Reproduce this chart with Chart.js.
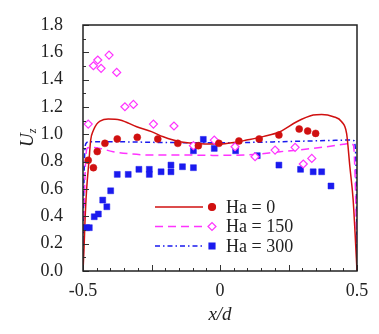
<!DOCTYPE html>
<html>
<head>
<meta charset="utf-8">
<script src="https://cdn.jsdelivr.net/npm/chart.js@4"></script>
<style>
  html, body { margin: 0; padding: 0; background: #fff; }
  canvas { display: block; }
</style>
</head>
<body>
<canvas id="uzChart" width="379" height="334"></canvas>
<script>
// simulated profiles (lines)
const xs0   = [-0.5,-0.496,-0.493,-0.487,-0.478,-0.472,-0.462,-0.45,-0.438,-0.408,-0.365,-0.304,-0.25,-0.207,-0.146,-0.07,0,0.05,0.097,0.16,0.219,0.28,0.34,0.371,0.414,0.444,0.462,0.474,0.486,0.493,0.5];
const ys0   = [0,0.18,0.35,0.59,0.81,0.958,1.03,1.075,1.097,1.112,1.105,1.056,1.02,0.982,0.946,0.932,0.929,0.94,0.958,0.985,1.019,1.092,1.141,1.146,1.129,1.092,1.007,0.763,0.52,0.276,0];
const xs150 = [-0.5,-0.497,-0.494,-0.49,-0.484,-0.47,-0.438,-0.39,-0.322,-0.255,-0.146,-0.026,0.097,0.219,0.34,0.389,0.45,0.474,0.487,0.493,0.497,0.5];
const ys150 = [0,0.3,0.6,0.82,0.9,0.905,0.897,0.873,0.856,0.849,0.849,0.846,0.849,0.873,0.897,0.909,0.927,0.934,0.92,0.7,0.35,0];
const xs300 = [-0.5,-0.499,-0.497,-0.494,-0.49,-0.48,-0.4,-0.2,0,0.2,0.4,0.47,0.487,0.493,0.497,0.499,0.5];
const ys300 = [0,0.3,0.6,0.85,0.93,0.945,0.946,0.94,0.938,0.945,0.955,0.958,0.955,0.92,0.7,0.35,0];

// measured points (symbols)
const x0p   = [-0.481,-0.462,-0.448,-0.42,-0.375,-0.302,-0.227,-0.154,-0.079,-0.004,0.069,0.143,0.215,0.289,0.32,0.349];
const y0p   = [0.81,0.756,0.874,0.934,0.966,0.978,0.966,0.934,0.917,0.934,0.951,0.966,0.995,1.039,1.024,1.007];
const x150p = [-0.481,-0.462,-0.446,-0.434,-0.405,-0.377,-0.347,-0.316,-0.243,-0.168,-0.097,-0.021,0.055,0.128,0.201,0.274,0.304,0.335];
const y150p = [1.075,1.502,1.544,1.483,1.58,1.453,1.202,1.219,1.075,1.061,0.917,0.958,0.909,0.836,0.885,0.905,0.783,0.824];
const x300p = [-0.487,-0.477,-0.459,-0.444,-0.428,-0.413,-0.399,-0.375,-0.335,-0.296,-0.258,-0.258,-0.215,-0.179,-0.179,-0.137,-0.097,-0.097,-0.061,-0.021,0.057,0.136,0.215,0.294,0.34,0.371,0.405];
const y300p = [0.317,0.317,0.397,0.417,0.519,0.47,0.587,0.707,0.707,0.744,0.744,0.707,0.726,0.775,0.726,0.763,0.88,0.756,0.963,0.897,0.88,0.844,0.775,0.744,0.726,0.726,0.622];

const legendLabels = ['Ha = 0', 'Ha = 150', 'Ha = 300'];
const xLabelTicks = [-0.5, 0, 0.5];

const RED = '#d01010', MAG = '#ff33ff', BLUE = '#1a1aee';
const SERIF = '"Liberation Serif", "Times New Roman", serif';

const pts = (xs, ys) => xs.map((x, i) => ({ x, y: ys[i] }));

// legend entries: line style + marker style
const legendItems = [
  { text: legendLabels[0], color: RED,  dash: [],              marker: 'circle',  fill: RED,    r: 3.5 },
  { text: legendLabels[1], color: MAG,  dash: [8, 5],          marker: 'rectRot', fill: '#fff', r: 4 },
  { text: legendLabels[2], color: BLUE, dash: [5, 3, 1.5, 3],  marker: 'rect',    fill: BLUE,   r: 4.2 }
];

const framePlugin = {
  id: 'frame',
  afterDatasetsDraw(chart) {
    const { ctx, chartArea: a, scales: { x, y } } = chart;
    ctx.save();
    // legend
    legendItems.forEach((it, i) => {
      const ly = a.top + 182 + i * 19.5;
      ctx.strokeStyle = it.color;
      ctx.lineWidth = 1.5;
      ctx.setLineDash(it.dash);
      ctx.beginPath();
      ctx.moveTo(a.left + 72, ly);
      ctx.lineTo(a.left + 120, ly);
      ctx.stroke();
      ctx.setLineDash([]);
      ctx.fillStyle = it.fill;
      ctx.lineWidth = 1.2;
      Chart.helpers.drawPoint(ctx, { pointStyle: it.marker, radius: it.r, rotation: 0, borderWidth: 1.2 }, a.left + 129, ly);
      ctx.fillStyle = '#222';
      ctx.font = '18px ' + SERIF;
      ctx.textBaseline = 'middle';
      ctx.textAlign = 'left';
      ctx.fillText(it.text, a.left + 143, ly + 1);
    });

    // inward ticks
    ctx.strokeStyle = '#333';
    ctx.lineWidth = 1;
    ctx.beginPath();
    for (let k = 0; k <= 20; k++) {
      const v = -0.5 + k * 0.05;
      const px = Math.round(x.getPixelForValue(v)) + 0.5;
      const len = (k % 5 === 0) ? 6 : 3;
      ctx.moveTo(px, a.bottom);
      ctx.lineTo(px, a.bottom - len);
    }
    for (let k = 0; k <= 18; k++) {
      const py = Math.round(y.getPixelForValue(k * 0.1)) + 0.5;
      const len = (k % 2 === 0) ? 6 : 3;
      ctx.moveTo(a.left, py);
      ctx.lineTo(a.left + len, py);
    }
    ctx.stroke();

    // frame
    ctx.lineWidth = 1.5;
    ctx.strokeStyle = '#222';
    ctx.strokeRect(a.left, a.top, a.right - a.left, a.bottom - a.top);

    // x tick labels and title
    ctx.fillStyle = '#222';
    ctx.textAlign = 'center';
    ctx.textBaseline = 'middle';
    ctx.font = '18px ' + SERIF;
    xLabelTicks.forEach(v => {
      ctx.fillText(v === 0 ? '0' : v.toFixed(1), x.getPixelForValue(v), a.bottom + 20);
    });
    ctx.font = 'italic 19px ' + SERIF;
    ctx.fillText('x/d', (a.left + a.right) / 2, a.bottom + 44);

    // y title: italic U with subscript z
    ctx.translate(27, a.top + 113);
    ctx.rotate(-Math.PI / 2);
    ctx.textBaseline = 'alphabetic';
    ctx.textAlign = 'left';
    ctx.font = 'italic 19px ' + SERIF;
    ctx.fillText('U', -9, 6);
    const uw = ctx.measureText('U').width;
    ctx.font = 'italic 12px ' + SERIF;
    ctx.fillText('z', -9 + uw, 9);
    ctx.restore();
  }
};

new Chart(document.getElementById('uzChart'), {
  type: 'scatter',
  data: {
    datasets: [
      { type: 'line', data: pts(xs0, ys0), borderColor: RED, borderWidth: 1.5, pointRadius: 0,
        cubicInterpolationMode: 'monotone', fill: false, order: 3 },
      { type: 'line', data: pts(xs150, ys150), borderColor: MAG, borderWidth: 1.5, borderDash: [8, 5], pointRadius: 0,
        cubicInterpolationMode: 'monotone', fill: false, order: 3 },
      { type: 'line', data: pts(xs300, ys300), borderColor: BLUE, borderWidth: 1.5, borderDash: [5, 3, 1.5, 3], pointRadius: 0,
        cubicInterpolationMode: 'monotone', fill: false, order: 3 },
      { data: pts(x0p, y0p), pointStyle: 'circle', pointRadius: 3.5, backgroundColor: RED, borderColor: RED, borderWidth: 0.5, order: 1 },
      { data: pts(x150p, y150p), pointStyle: 'rectRot', pointRadius: 4, backgroundColor: '#fff', borderColor: MAG, borderWidth: 1.2, order: 1 },
      { data: pts(x300p, y300p), pointStyle: 'rect', pointRadius: 4.2, backgroundColor: BLUE, borderColor: BLUE, borderWidth: 0.5, order: 1 }
    ]
  },
  options: {
    responsive: false,
    animation: false,
    events: [],
    layout: { padding: { top: 25, right: 22, left: 0, bottom: 0 } },
    plugins: { legend: { display: false }, tooltip: { enabled: false } },
    scales: {
      x: {
        type: 'linear', min: -0.5, max: 0.5,
        afterFit: s => { s.height = 63; },
        grid: { display: false },
        border: { display: false },
        ticks: { display: false }
      },
      y: {
        type: 'linear', min: 0, max: 1.8,
        afterFit: s => { s.width = 83; },
        grid: { display: false },
        border: { display: false },
        ticks: {
          stepSize: 0.2, padding: 12, color: '#222', font: { family: SERIF, size: 18 },
          callback: v => v.toFixed(1)
        }
      }
    }
  },
  plugins: [framePlugin]
});
</script>
</body>
</html>
